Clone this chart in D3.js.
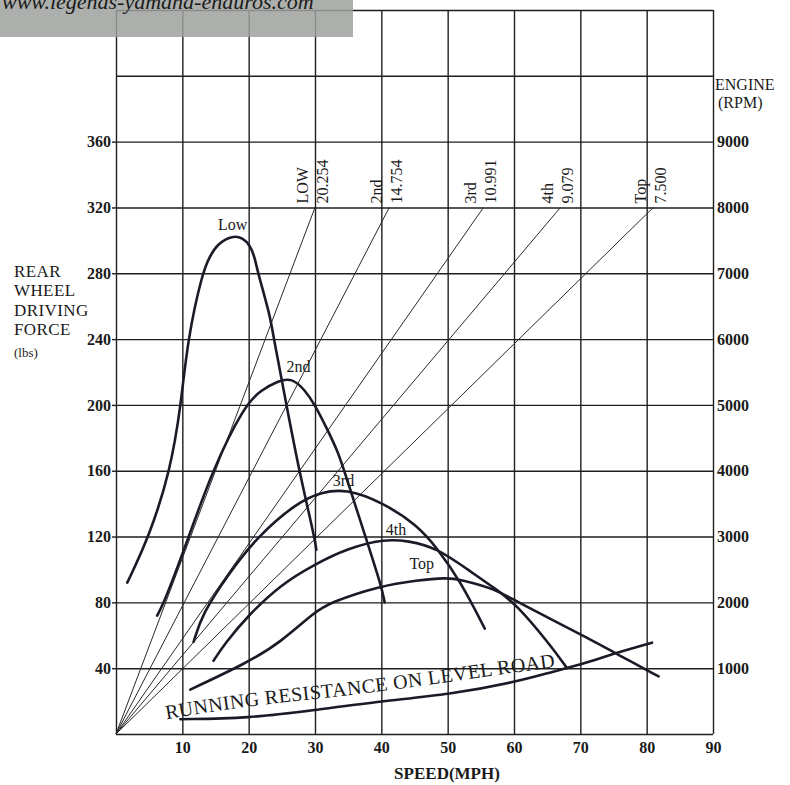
<!DOCTYPE html>
<html>
<head>
<meta charset="utf-8">
<script src="https://cdn.jsdelivr.net/npm/d3@7/dist/d3.min.js"></script>
<style>
  body { margin: 0; background: #fff; }
  svg { display: block; }
  text { font-family: "Liberation Serif", "DejaVu Serif", serif; fill: #1a1a1a; }
</style>
</head>
<body>
<div id="chart"></div>
<script>
// tick values
const speedTicks = [10, 20, 30, 40, 50, 60, 70, 80, 90];
const forceTicks = [40, 80, 120, 160, 200, 240, 280, 320, 360];
const rpmTicks = [1000, 2000, 3000, 4000, 5000, 6000, 7000, 8000, 9000];

// driving force curves, [speed mph, force lbs]
const lowCurve = [[1.7, 92], [5, 120], [8.2, 160], [9.8, 200], [10.8, 240], [13, 280], [14.1, 290], [15.3, 298],
  [17.6, 303], [19.1, 301.5], [20.2, 297], [20.9, 290], [21.4, 280], [23.2, 255], [23.8, 240], [25.7, 200],
  [27.6, 160], [29.9, 120], [30.2, 112]];
const secondCurve = [[6.2, 72], [7.3, 80], [11, 120], [14.5, 160], [19.4, 200], [21.9, 209], [24.4, 214.5], [26.5, 216.5],
  [28.5, 209], [30, 200], [32, 184], [33.5, 171], [34.4, 160], [37.6, 120], [40, 90], [40.5, 80]];
const thirdCurve = [[11.7, 56], [13, 73], [16.9, 97], [21.3, 120], [27.4, 141], [31, 147], [34.6, 149], [40.1, 141],
  [45.4, 127], [48.4, 113], [51.9, 93], [55.6, 64]];
const fourthCurve = [[14.7, 44.5], [16.4, 55], [19.9, 72], [24.9, 91], [29.9, 103], [35, 113], [40.5, 118.5], [44, 117.5],
  [48.4, 113], [53, 100], [57.3, 88], [60.3, 79], [65.3, 55], [68, 40]];
const topCurve = [[11.2, 27], [19.9, 43.5], [24.9, 56], [29.9, 74], [32.3, 80], [39.8, 90], [45.4, 93.5], [49.9, 95],
  [51.8, 94], [57.3, 88], [60.3, 80.5], [72.3, 56], [75.3, 49], [81.8, 35]];
const resistCurve = [[9.7, 9], [19.9, 9.5], [29.9, 14.5], [40.1, 20], [50.3, 24], [60.3, 31.6], [66, 38], [68, 40],
  [72.3, 45], [74.3, 48], [80.8, 55.5]];

const gearNames = ["Low", "2nd", "3rd", "4th", "Top"];
const gearLabelAt = [[17.6, 306], [27.5, 220], [34.3, 151], [42.2, 121], [46.1, 100]];

// overall ratio lines: speed reached at 8000 rpm
const ratioNames = ["LOW", "2nd", "3rd", "4th", "Top"];
const ratioValues = ["20.254", "14.754", "10.991", "9.079", "7.500"];
const ratioEndSpeed = [30, 41.2, 55.4, 67, 81];
const ratioEndRpm = 8000;

const resistText = "RUNNING RESISTANCE ON LEVEL ROAD";
const resistTextPath = [[7.6, 9], [19.9, 17.3], [39.7, 25.2], [56.6, 35.6], [66.5, 40.8]];

const width = 790, height = 785;
const svg = d3.select("#chart").append("svg").attr("width", width).attr("height", height);

const x = d3.scaleLinear().domain([0, 90]).range([116, 713]);
const y = d3.scaleLinear().domain([0, 440]).range([734, 10]);
const yRpm = d3.scaleLinear().domain([0, 11000]).range([734, 10]);

// grid
svg.append("g")
  .attr("transform", "translate(0," + y(0) + ")")
  .call(d3.axisBottom(x).tickValues(d3.range(0, 91, 10)).tickSize(-(y(0) - y(440))).tickFormat(""))
  .call(g => g.select(".domain").remove())
  .selectAll("line").attr("stroke", "#1e1e1e").attr("stroke-width", 1.4);
svg.append("g")
  .attr("transform", "translate(" + x(0) + ",0)")
  .call(d3.axisLeft(y).tickValues(d3.range(0, 441, 40)).tickSize(-(x(90) - x(0))).tickFormat(""))
  .call(g => g.select(".domain").remove())
  .selectAll("line").attr("stroke", "#1e1e1e").attr("stroke-width", 1.4);

// labelled axes
const left = svg.append("g")
  .attr("transform", "translate(" + x(0) + ",0)")
  .call(d3.axisLeft(y).tickValues(forceTicks).tickSize(4).tickPadding(1));
const right = svg.append("g")
  .attr("transform", "translate(" + x(90) + ",0)")
  .call(d3.axisRight(yRpm).tickValues(rpmTicks).tickSize(0).tickPadding(4).tickFormat(d3.format("d")));
const bottom = svg.append("g")
  .attr("transform", "translate(0," + y(0) + ")")
  .call(d3.axisBottom(x).tickValues(speedTicks).tickSize(0).tickPadding(8));
[left, right, bottom].forEach(g => {
  g.select(".domain").remove();
  g.selectAll("line").attr("stroke", "#1e1e1e").attr("stroke-width", 1.4);
  g.selectAll("text")
    .style("font-family", "'Liberation Serif', serif")
    .style("font-size", "16px")
    .style("font-weight", "bold")
    .attr("fill", "#1a1a1a");
});

// axis titles
svg.append("text").attr("x", 447).attr("y", 779).attr("text-anchor", "middle")
  .style("font-size", "17px").style("font-weight", "bold").text("SPEED(MPH)");
svg.append("text").attr("x", 715).attr("y", 90).style("font-size", "16px").text("ENGINE");
svg.append("text").attr("x", 718).attr("y", 108).style("font-size", "16px").text("(RPM)");
const yTitle = ["REAR", "WHEEL", "DRIVING", "FORCE"];
svg.append("g").selectAll("text").data(yTitle).enter().append("text")
  .attr("x", 14).attr("y", (d, i) => 277 + i * 19.4)
  .style("font-size", "17px").style("letter-spacing", "0.4px")
  .text(d => d);
svg.append("text").attr("x", 14).attr("y", 357).style("font-size", "13px").text("(lbs)");

// ratio lines from origin
svg.append("g").selectAll("line").data(ratioEndSpeed).enter().append("line")
  .attr("x1", x(0)).attr("y1", yRpm(0))
  .attr("x2", d => x(d)).attr("y2", yRpm(ratioEndRpm))
  .attr("stroke", "#2a2a2a").attr("stroke-width", 1);

const ratioLabels = svg.append("g").selectAll("g").data(ratioEndSpeed).enter().append("g")
  .attr("transform", d => "translate(" + x(d) + "," + (yRpm(ratioEndRpm) - 4) + ")");
ratioLabels.append("text")
  .attr("transform", "translate(-7,0) rotate(-90)")
  .style("font-size", "16px")
  .text((d, i) => ratioNames[i]);
ratioLabels.append("text")
  .attr("transform", "translate(13,0) rotate(-90)")
  .style("font-size", "16px")
  .text((d, i) => ratioValues[i]);

// force curves
const line = d3.line().x(d => x(d[0])).y(d => y(d[1])).curve(d3.curveBasis);
const curves = [lowCurve, secondCurve, thirdCurve, fourthCurve, topCurve, resistCurve];
svg.append("g").selectAll("path").data(curves).enter().append("path")
  .attr("d", line)
  .attr("fill", "none")
  .attr("stroke", "#1b1b28")
  .attr("stroke-width", 2.6)
  .attr("stroke-linecap", "round");

svg.append("g").selectAll("text").data(gearLabelAt).enter().append("text")
  .attr("x", d => x(d[0])).attr("y", d => y(d[1]))
  .attr("text-anchor", "middle")
  .style("font-size", "16px")
  .text((d, i) => gearNames[i]);

// running resistance text along the curve
svg.append("defs").append("path")
  .attr("id", "resistPath")
  .attr("d", line(resistTextPath));
svg.append("text")
  .style("font-size", "20px").style("letter-spacing", "0.4px")
  .append("textPath").attr("href", "#resistPath")
  .text(resistText);

// scan watermark
svg.append("rect").attr("x", 0).attr("y", 0).attr("width", 353).attr("height", 37)
  .attr("fill", "#9da19d").attr("opacity", 0.85);
svg.append("text").attr("x", 2).attr("y", 9)
  .style("font-size", "22px").style("font-style", "italic")
  .attr("fill", "#cbe6c8")
  .text("www.legends-yamaha-enduros.com");
</script>
</body>
</html>
